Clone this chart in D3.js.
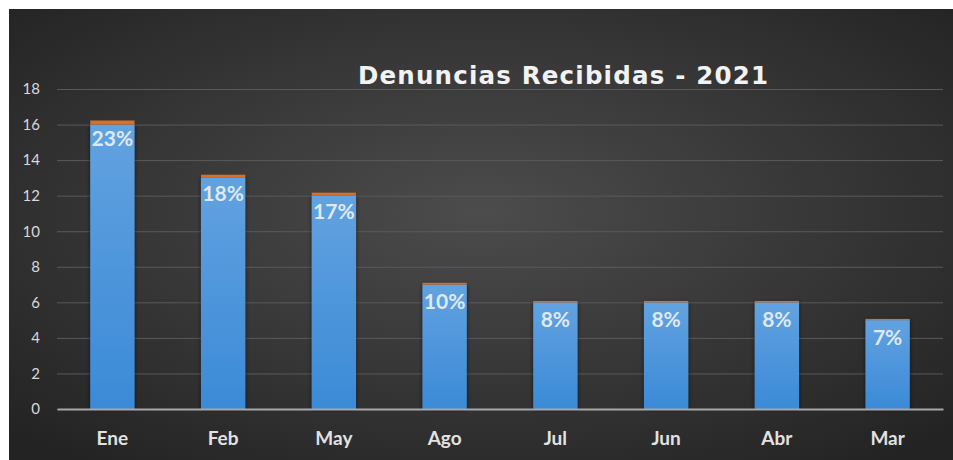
<!DOCTYPE html>
<html>
<head>
<meta charset="utf-8">
<script src="https://cdnjs.cloudflare.com/ajax/libs/d3/7.8.5/d3.min.js"></script>
<style>
  body { margin: 0; background: #fff; }
  svg { display: block; }
</style>
</head>
<body>
<svg id="chart" width="953" height="460"></svg>
<script>
// datos
var meses = ['Ene', 'Feb', 'May', 'Ago', 'Jul', 'Jun', 'Abr', 'Mar'];
var denuncias = [16, 13, 12, 7, 6, 6, 6, 5];
var porcentajes = [0.23, 0.18, 0.17, 0.10, 0.08, 0.08, 0.08, 0.07];
var yTicks = [0, 2, 4, 6, 8, 10, 12, 14, 16, 18];
var titulo = 'Denuncias Recibidas - 2021';

var svg = d3.select('#chart');
var defs = svg.append('defs');

var bg = defs.append('radialGradient')
    .attr('id', 'bg')
    .attr('cx', '50%').attr('cy', '45%').attr('r', '70%');
bg.append('stop').attr('offset', '0%').attr('stop-color', '#4c4c4c');
bg.append('stop').attr('offset', '100%').attr('stop-color', '#232323');

var barGrad = defs.append('linearGradient')
    .attr('id', 'barGrad')
    .attr('x1', 0).attr('y1', 0).attr('x2', 0).attr('y2', 1);
barGrad.append('stop').attr('offset', '0%').attr('stop-color', '#62a2e0');
barGrad.append('stop').attr('offset', '100%').attr('stop-color', '#3b8ad7');

var shadow = defs.append('filter').attr('id', 'shadow')
    .attr('x', '-30%').attr('y', '-10%').attr('width', '160%').attr('height', '120%');
shadow.append('feDropShadow')
    .attr('dx', 0).attr('dy', 0).attr('stdDeviation', 2)
    .attr('flood-color', '#000').attr('flood-opacity', 0.6);

svg.append('rect')
    .attr('x', 9).attr('y', 9)
    .attr('width', 944).attr('height', 451)
    .attr('fill', 'url(#bg)');

var x = d3.scaleBand()
    .domain(meses)
    .range([57, 943])
    .paddingInner(0.6)
    .paddingOuter(0.3);

var y = d3.scaleLinear()
    .domain([0, 18])
    .range([409, 89]);

// lineas de cuadricula
var yAxis = d3.axisLeft(y)
    .tickValues(yTicks)
    .tickSize(-(943 - 57))
    .tickPadding(17);

var gy = svg.append('g')
    .attr('transform', 'translate(57,0)')
    .call(yAxis);
gy.select('.domain').remove();
gy.selectAll('.tick line')
    .attr('stroke', '#5a5a5a')
    .attr('stroke-width', 1);
gy.selectAll('.tick text')
    .attr('fill', '#d9d9d9')
    .style('font-family', 'Lato, "Open Sans", sans-serif')
    .style('font-size', '15px');

// barras azules
svg.append('g')
    .selectAll('rect')
    .data(meses)
    .enter()
    .append('rect')
    .attr('x', function(d){ return x(d); })
    .attr('y', function(d, i){ return y(denuncias[i]); })
    .attr('width', x.bandwidth())
    .attr('height', function(d, i){ return y(0) - y(denuncias[i]); })
    .attr('fill', 'url(#barGrad)')
    .attr('filter', 'url(#shadow)');

// segmento naranja apilado
svg.append('g')
    .selectAll('rect')
    .data(meses)
    .enter()
    .append('rect')
    .attr('x', function(d){ return x(d); })
    .attr('y', function(d, i){ return y(denuncias[i] + porcentajes[i]); })
    .attr('width', x.bandwidth())
    .attr('height', function(d, i){ return y(denuncias[i]) - y(denuncias[i] + porcentajes[i]); })
    .attr('fill', '#d5702e');

// eje x
var xAxis = d3.axisBottom(x).tickSize(0).tickPadding(23);
var gx = svg.append('g')
    .attr('transform', 'translate(0,' + y(0) + ')')
    .call(xAxis);
gx.select('.domain')
    .attr('stroke', '#a8a8a8')
    .attr('stroke-width', 2);
gx.selectAll('.tick text')
    .attr('fill', '#e2e2e2')
    .style('font-family', 'Lato, "Open Sans", sans-serif')
    .style('font-weight', 'bold')
    .style('font-size', '19px');

// etiquetas de porcentaje
svg.append('g')
    .selectAll('text')
    .data(meses)
    .enter()
    .append('text')
    .attr('x', function(d){ return x(d) + x.bandwidth() / 2; })
    .attr('y', function(d, i){ return y(denuncias[i] + porcentajes[i]) + 26; })
    .attr('text-anchor', 'middle')
    .attr('fill', '#dfe9f5')
    .style('font-family', 'Lato, "Open Sans", sans-serif')
    .style('font-weight', 'bold')
    .style('font-size', '21px')
    .text(function(d, i){ return Math.round(porcentajes[i] * 100) + '%'; });

// titulo
svg.append('text')
    .attr('x', 358)
    .attr('y', 84)
    .attr('textLength', 410)
    .attr('lengthAdjust', 'spacing')
    .attr('fill', '#f2f2f2')
    .style('font-family', '"DejaVu Sans", sans-serif')
    .style('font-weight', 'bold')
    .style('font-size', '24.5px')
    .text(titulo);
</script>
</body>
</html>
